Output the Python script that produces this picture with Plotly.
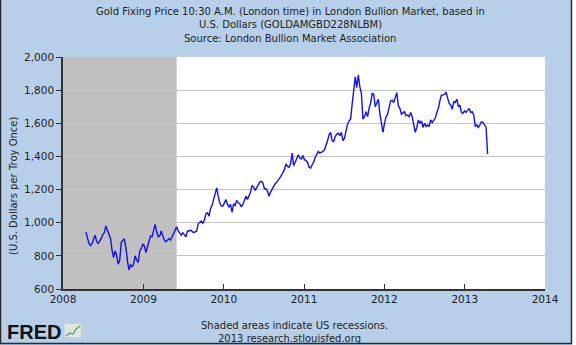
import pandas as pd
import plotly.graph_objects as go

# Weekly (Monday) London AM gold fixing, US$ per troy ounce
prices_2008 = [945, 915, 875,
               862, 875, 900, 925,
               885, 875, 890, 905, 930,
               940, 980, 955, 920,
               905, 835, 790, 830,
               805, 750, 775, 880, 895,
               900, 850, 770, 715,
               745, 735, 750, 800,
               775, 760, 830, 845, 870]
prices_2009 = [860, 820, 850, 895,
               920, 915, 955, 990,
               945, 915, 920, 950, 920,
               895, 885, 895, 905,
               895, 915, 930, 955,
               975, 950, 935, 925, 940,
               930, 915, 950, 950,
               955, 945, 940, 945, 950,
               995, 1005, 1010, 995,
               1015, 1055, 1060, 1040,
               1085, 1105, 1140, 1170, 1210,
               1160, 1120, 1100, 1100]
prices_2010 = [1120, 1140, 1110, 1095,
               1110, 1062, 1115, 1105,
               1135, 1120, 1115, 1095, 1110,
               1130, 1160, 1140, 1165,
               1185, 1225, 1215, 1195, 1215,
               1235, 1245, 1250, 1240,
               1205, 1205, 1190, 1160,
               1185, 1205, 1225, 1235, 1245,
               1255, 1270, 1285, 1300,
               1320, 1355, 1340, 1335,
               1355, 1420, 1345, 1365, 1385,
               1410, 1390, 1385, 1405]
prices_2011 = [1380, 1375, 1365, 1335, 1330,
               1350, 1365, 1395, 1410,
               1430, 1420, 1425, 1430,
               1440, 1465, 1495, 1530,
               1545, 1495, 1490, 1520, 1535,
               1540, 1525, 1545, 1495,
               1510, 1565, 1595, 1615,
               1625, 1715, 1785, 1880, 1815,
               1893, 1820, 1780, 1625,
               1640, 1670, 1640, 1690, 1720,
               1780, 1775, 1700, 1720,
               1745, 1660, 1600, 1545]
prices_2012 = [1600, 1640, 1655, 1690, 1735,
               1740, 1725, 1755, 1785,
               1705, 1690, 1655, 1665,
               1670, 1645, 1650, 1640, 1665,
               1640, 1580, 1545, 1575,
               1620, 1600, 1615, 1575,
               1600, 1580, 1590, 1580, 1620,
               1605, 1615, 1630, 1665,
               1690, 1735, 1770, 1770,
               1775, 1788, 1745, 1720, 1710,
               1685, 1730, 1725, 1745,
               1700, 1710, 1665, 1660, 1675]
prices_2013 = [1665, 1680, 1690, 1665,
               1670, 1650, 1580, 1590,
               1575, 1590, 1610, 1605,
               1585, 1575, 1415]

year_starts = {2008: "2008-04-14", 2009: "2009-01-05", 2010: "2010-01-04",
               2011: "2011-01-03", 2012: "2012-01-02", 2013: "2013-01-07"}
year_prices = {2008: prices_2008, 2009: prices_2009, 2010: prices_2010,
               2011: prices_2011, 2012: prices_2012, 2013: prices_2013}

dates, prices = [], []
for yr, vals in year_prices.items():
    dates.extend(pd.date_range(year_starts[yr], periods=len(vals), freq="W-MON"))
    prices.extend(vals)

recession_start = "2008-01-01"
recession_end = "2009-06-01"

tick_years = ["2008", "2009", "2010", "2011", "2012", "2013", "2014"]
y_ticks = [600, 800, 1000, 1200, 1400, 1600, 1800, 2000]

BG = "#b7cfe8"
FONT = "DejaVu Sans"
TXT = "#1e1e1e"

# plot box in pixels: x 63..545, y 57..289
L, R, T, B = 63, 545, 57, 289
W, H = R - L, B - T


def px(x):
    return (x - L) / W


def py(y):
    return (B - y) / H


fig = go.Figure()
fig.add_trace(go.Scatter(x=dates, y=prices, mode="lines",
                         line=dict(color="#1212e8", width=1.4),
                         hoverinfo="x+y", showlegend=False))

shapes = [
    dict(type="rect", xref="x", yref="paper", x0=recession_start, x1=recession_end,
         y0=0, y1=1, fillcolor="#c0c0c0", line_width=0, layer="between"),
    # outer frame
    dict(type="line", xref="paper", yref="paper", x0=px(0.5), x1=px(0.5),
         y0=py(0), y1=py(344), line=dict(color="#2a2a2a", width=1.5)),
    dict(type="line", xref="paper", yref="paper", x0=px(571.5), x1=px(571.5),
         y0=py(0), y1=py(344), line=dict(color="#2a2a2a", width=1.5)),
    dict(type="line", xref="paper", yref="paper", x0=px(0), x1=px(572),
         y0=py(343.5), y1=py(343.5), line=dict(color="#2a2a2a", width=1.5)),
    dict(type="rect", xref="paper", yref="paper", x0=px(572.5), x1=px(577),
         y0=py(-1), y1=py(346), fillcolor="#ffffff", line_width=0),
    # FRED logo chart icon
    dict(type="rect", xref="paper", yref="paper", x0=px(64.5), x1=px(81),
         y0=py(337.5), y1=py(324), fillcolor="#dfe6df", line_width=0),
    dict(type="path", xref="paper", yref="paper",
         path=f"M {px(66)},{py(336)} L {px(70)},{py(333)} L {px(73)},{py(334)} "
              f"L {px(76)},{py(329)} L {px(80)},{py(326)}",
         line=dict(color="#5aa05a", width=1.2)),
]

annotations = []
title_lines = [
    ("Gold Fixing Price 10:30 A.M. (London time) in London Bullion Market, based in", 11.5),
    ("U.S. Dollars (GOLDAMGBD228NLBM)", 25.0),
    ("Source: London Bullion Market Association", 38.5),
]
for text, ypx in title_lines:
    annotations.append(dict(text=text, xref="paper", yref="paper", x=px(290), y=py(ypx),
                            showarrow=False, xanchor="center", yanchor="middle",
                            font=dict(family=FONT, size=10, color=TXT)))
annotations.append(dict(text="(U.S. Dollars per Troy Once)", xref="paper", yref="paper",
                        x=px(13), y=py(186), textangle=-90, showarrow=False,
                        xanchor="center", yanchor="middle",
                        font=dict(family=FONT, size=10, color=TXT)))
annotations.append(dict(text="Shaded areas indicate US recessions.", xref="paper", yref="paper",
                        x=px(294), y=py(325), showarrow=False, xanchor="center",
                        yanchor="middle", font=dict(family=FONT, size=10, color=TXT)))
annotations.append(dict(text="2013 research.stlouisfed.org", xref="paper", yref="paper",
                        x=px(289), y=py(338.5), showarrow=False, xanchor="center",
                        yanchor="middle", font=dict(family=FONT, size=10, color=TXT)))
annotations.append(dict(text="<b>FRED</b>", xref="paper", yref="paper",
                        x=px(5), y=py(331.5), showarrow=False, xanchor="left",
                        yanchor="middle",
                        font=dict(family="Liberation Sans", size=20, color="#111111")))

fig.update_layout(
    width=576, height=345,
    margin=dict(l=L, r=576 - R, t=T, b=345 - B, pad=0),
    paper_bgcolor=BG, plot_bgcolor="#ffffff",
    font=dict(family=FONT, size=10, color=TXT),
    shapes=shapes, annotations=annotations,
    xaxis=dict(type="date", range=["2008-01-01", "2014-01-01"],
               tickvals=[f"{y}-01-01" for y in tick_years], ticktext=tick_years,
               ticks="inside", ticklen=5, tickcolor="#333333", tickwidth=1,
               showgrid=False, showline=True, linecolor="#333333", linewidth=1.5,
               zeroline=False, tickfont=dict(size=10.5)),
    yaxis=dict(range=[600, 2000], tickvals=y_ticks, tickformat=",d",
               ticks="outside", ticklen=5, tickcolor="#333333", tickwidth=1,
               showgrid=True, gridcolor="#c4c4c4", gridwidth=1.2,
               showline=True, linecolor="#333333", linewidth=1.5,
               zeroline=False, tickfont=dict(size=10.5)),
)

fig.write_html("out.html")
